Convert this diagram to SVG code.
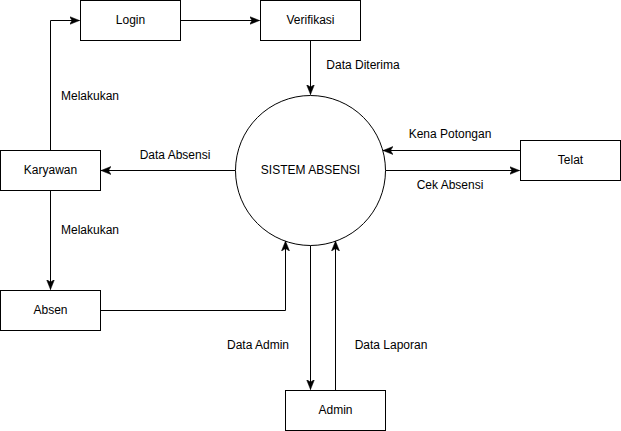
<svg xmlns="http://www.w3.org/2000/svg" width="621" height="431" viewBox="0 0 621 431">
<style>
.box{fill:#fff;stroke:#000;stroke-width:1}
.ln{fill:none;stroke:#000;stroke-width:1}
text{font-family:"Liberation Sans",Arial,sans-serif;font-size:12px;fill:#000;text-anchor:middle;dominant-baseline:central}
</style>
<defs>
<marker id="ah" viewBox="0 0 10 10" refX="10" refY="5" markerWidth="10" markerHeight="10" markerUnits="userSpaceOnUse" orient="auto">
<path d="M0,1 L10,5 L0,9 L2.5,5 Z" fill="#000" stroke="#000" stroke-width="0.5"/>
</marker>
</defs>
<rect width="621" height="431" fill="#fff"/>
<g id="connectors">
<path class="ln" d="M180.5,20.5 H259.5" marker-end="url(#ah)"/>
<path class="ln" d="M310.5,40.5 V94.5" marker-end="url(#ah)"/>
<path class="ln" d="M50.5,150.5 V20.5 H79.5" marker-end="url(#ah)"/>
<path class="ln" d="M50.5,190.5 V289.5" marker-end="url(#ah)"/>
<path class="ln" d="M235.5,170.5 H101" marker-end="url(#ah)"/>
<path class="ln" d="M100.5,310.5 H285.5 V241" marker-end="url(#ah)"/>
<path class="ln" d="M310.5,245.5 V389.5" marker-end="url(#ah)"/>
<path class="ln" d="M335.5,390.5 V241" marker-end="url(#ah)"/>
<path class="ln" d="M520.5,150.5 H383" marker-end="url(#ah)"/>
<path class="ln" d="M385.5,170.5 H519.5" marker-end="url(#ah)"/>
<text x="363" y="65">Data Diterima</text>
<text x="90" y="96">Melakukan</text>
<text x="90" y="230">Melakukan</text>
<text x="175" y="155">Data Absensi</text>
<text x="450" y="134">Kena Potongan</text>
<text x="450" y="185">Cek Absensi</text>
<text x="258" y="345">Data Admin</text>
<text x="391" y="345">Data Laporan</text>
</g>
<g id="login"><rect class="box" x="80.5" y="0.5" width="100" height="40"/><text x="130.5" y="20">Login</text></g>
<g id="verifikasi"><rect class="box" x="260.5" y="0.5" width="100" height="40"/><text x="310.5" y="20">Verifikasi</text></g>
<g id="sistem"><circle class="box" cx="310.5" cy="170.5" r="75"/><text x="310.5" y="170">SISTEM ABSENSI</text></g>
<g id="karyawan"><rect class="box" x="0.5" y="150.5" width="100" height="40"/><text x="50.5" y="170">Karyawan</text></g>
<g id="absen"><rect class="box" x="0.5" y="290.5" width="100" height="40"/><text x="50.5" y="310">Absen</text></g>
<g id="telat"><rect class="box" x="520.5" y="140.5" width="100" height="40"/><text x="570.5" y="160">Telat</text></g>
<g id="admin"><rect class="box" x="285.5" y="390.5" width="100" height="40"/><text x="335.5" y="410">Admin</text></g>
</svg>
